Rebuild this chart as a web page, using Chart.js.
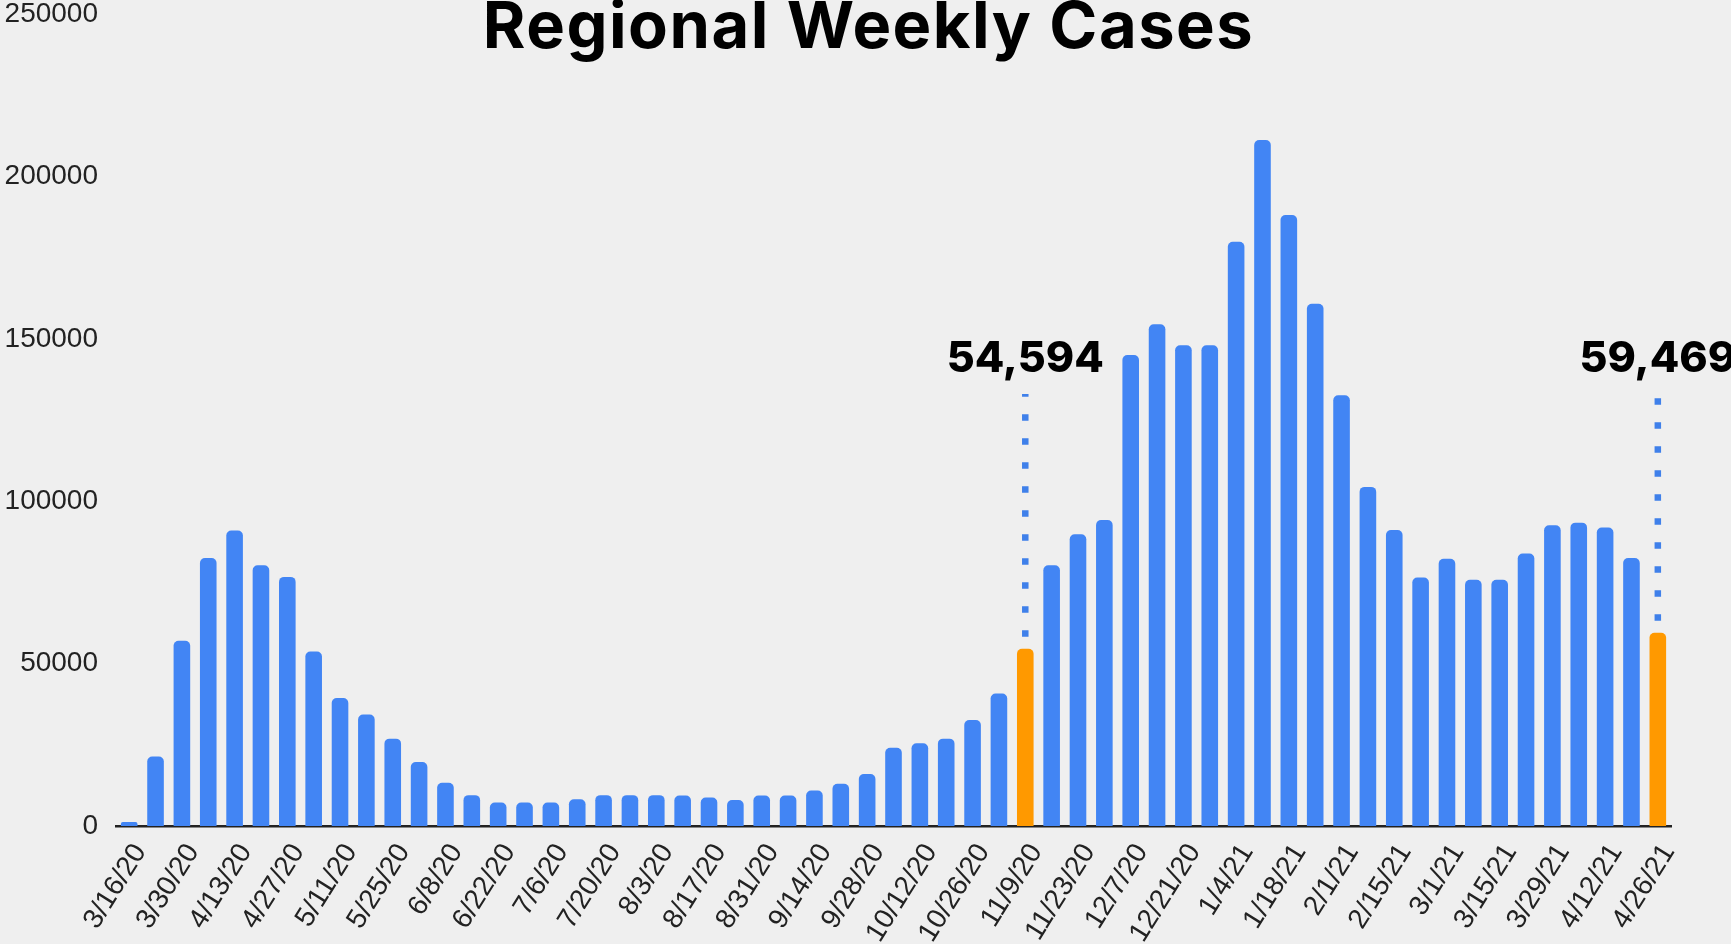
<!DOCTYPE html>
<html>
<head>
<meta charset="utf-8">
<title>Regional Weekly Cases</title>
<script src="https://cdn.jsdelivr.net/npm/chart.js@4.4.0/dist/chart.umd.min.js"></script>
<style>
  html, body { margin: 0; padding: 0; background: #efefef; }
  #wrap { width: 1731px; height: 944px; position: relative; }
</style>
</head>
<body>
<div id="wrap"><canvas id="chart"></canvas></div>
<script>
// week starting dates
const weeks = [
  '3/16/20', '3/23/20', '3/30/20', '4/6/20', '4/13/20', '4/20/20', '4/27/20', '5/4/20', '5/11/20', '5/18/20',
  '5/25/20', '6/1/20', '6/8/20', '6/15/20', '6/22/20', '6/29/20', '7/6/20', '7/13/20', '7/20/20', '7/27/20',
  '8/3/20', '8/10/20', '8/17/20', '8/24/20', '8/31/20', '9/7/20', '9/14/20', '9/21/20', '9/28/20', '10/5/20',
  '10/12/20', '10/19/20', '10/26/20', '11/2/20', '11/9/20', '11/16/20', '11/23/20', '11/30/20', '12/7/20', '12/14/20',
  '12/21/20', '12/28/20', '1/4/21', '1/11/21', '1/18/21', '1/25/21', '2/1/21', '2/8/21', '2/15/21', '2/22/21',
  '3/1/21', '3/8/21', '3/15/21', '3/22/21', '3/29/21', '4/5/21', '4/12/21', '4/19/21', '4/26/21'
];

const cases = [
  1200, 21400, 57000, 82500, 91000, 80300, 76700, 53700, 39400, 34300,
  26900, 19700, 13300, 9500, 7200, 7200, 7200, 8200, 9500, 9500,
  9500, 9400, 8800, 8000, 9400, 9400, 10900, 13000, 16000, 24100,
  25500, 26900, 32600, 40800, 54594, 80300, 89800, 94200, 145000, 154500,
  148000, 148000, 179900, 211200, 188100, 160800, 132600, 104400, 91100, 76500,
  82300, 75800, 75800, 83900, 92600, 93400, 91900, 82500, 59469
];

// x labels that are printed (every other week)
const shownWeeks = [
  '3/16/20', '3/30/20', '4/13/20', '4/27/20', '5/11/20', '5/25/20', '6/8/20', '6/22/20', '7/6/20', '7/20/20',
  '8/3/20', '8/17/20', '8/31/20', '9/14/20', '9/28/20', '10/12/20', '10/26/20', '11/9/20', '11/23/20', '12/7/20',
  '12/21/20', '1/4/21', '1/18/21', '2/1/21', '2/15/21', '3/1/21', '3/15/21', '3/29/21', '4/12/21', '4/26/21'
];

const yTicks = [0, 50000, 100000, 150000, 200000, 250000];

// weeks called out with their totals
const calloutWeeks = ['11/9/20', '4/26/21'];
const calloutTexts = ['54,594', '59,469'];

const TITLE = 'Regional Weekly Cases';
const BLUE = '#4285f4';
const ORANGE = '#ff9900';

// title centred on the whole canvas, sitting over the plot top
const pageTitle = {
    id: 'pageTitle',
    afterDraw(chart) {
        const ctx = chart.ctx;
        ctx.save();
        ctx.font = '700 65px Inter, "Noto Sans", sans-serif';
        if ('letterSpacing' in ctx) ctx.letterSpacing = '1.5px';
        ctx.fillStyle = '#000';
        ctx.textAlign = 'center';
        ctx.textBaseline = 'alphabetic';
        ctx.fillText(TITLE, chart.width / 2 + 3, 48);
        ctx.restore();
    }
};

const callouts = {
    id: 'callouts',
    afterDatasetsDraw(chart) {
        const { ctx, chartArea } = chart;
        const meta = chart.getDatasetMeta(0);
        ctx.save();
        calloutWeeks.forEach((wk, i) => {
            const bar = meta.data[weeks.indexOf(wk)];
            const textY = chartArea.top + 358;
            ctx.font = '800 43px Inter, "Noto Sans", sans-serif';
            ctx.fillStyle = '#000';
            ctx.textAlign = 'center';
            ctx.textBaseline = 'alphabetic';
            ctx.fillText(calloutTexts[i], bar.x, textY);

            // dotted leader, dashed from the bar upward
            ctx.strokeStyle = '#3f80ea';
            ctx.lineWidth = 6.5;
            ctx.setLineDash([6.5, 17.5]);
            ctx.beginPath();
            ctx.moveTo(bar.x, bar.y - 12);
            ctx.lineTo(bar.x, textY + 22);
            ctx.stroke();
        });
        ctx.restore();
    }
};

new Chart(document.getElementById('chart'), {
    type: 'bar',
    data: {
        labels: weeks,
        datasets: [{
            label: 'Cases',
            data: cases,
            backgroundColor: weeks.map(w => calloutWeeks.includes(w) ? ORANGE : BLUE),
            barPercentage: 0.63,
            categoryPercentage: 1,
            borderRadius: { topLeft: 5, topRight: 5 },
            borderSkipped: 'start'
        }]
    },
    options: {
        responsive: true,
        maintainAspectRatio: false,
        animation: false,
        layout: {
            padding: { left: 0, right: 60, top: 14, bottom: 0 }
        },
        scales: {
            x: {
                grid: { display: false, drawTicks: false },
                border: { display: true, color: '#222', width: 2.5 },
                ticks: {
                    autoSkip: false,
                    minRotation: 58,
                    maxRotation: 58,
                    padding: 12,
                    labelOffset: 11,
                    color: '#222',
                    font: { family: '"Liberation Sans", Arial, sans-serif', size: 28 },
                    callback: function(value) {
                        const lbl = this.getLabelForValue(value);
                        return shownWeeks.includes(lbl) ? lbl : '';
                    }
                },
                afterFit(scale) { scale.height = 118; }
            },
            y: {
                min: 0,
                max: 250000,
                grid: { display: false, drawTicks: false },
                border: { display: false },
                afterBuildTicks(scale) {
                    scale.ticks = yTicks.map(v => ({ value: v }));
                },
                ticks: {
                    padding: 18,
                    color: '#222',
                    font: { family: '"Liberation Sans", Arial, sans-serif', size: 28, lineHeight: 1 },
                    callback: v => String(v)
                },
                afterFit(scale) {
                    scale.width = 116;
                    scale.paddingTop = 0;
                    scale.paddingBottom = 0;
                }
            }
        },
        plugins: {
            legend: { display: false },
            tooltip: { enabled: false },
            title: { display: false }
        }
    },
    plugins: [callouts, pageTitle]
});
</script>
</body>
</html>
